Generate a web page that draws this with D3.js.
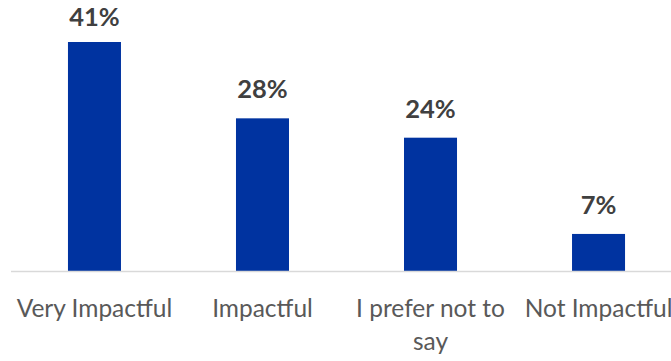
<!DOCTYPE html>
<html>
<head>
<meta charset="utf-8">
<script src="https://cdn.jsdelivr.net/npm/d3@7"></script>
<style>
  html, body { margin: 0; padding: 0; background: #ffffff; }
  svg { display: block; }
</style>
</head>
<body>
<svg id="chart" width="671" height="361"></svg>
<script>
const categories = ["Very Impactful", "Impactful", "I prefer not to say", "Not Impactful"];
const values = [41.4, 27.6, 24.1, 6.7];
const valueLabels = ["41%", "28%", "24%", "7%"];

const svg = d3.select("#chart");
const W = 671, H = 361;
const baseY = 271;
const fontFam = "Lato, 'Open Sans', sans-serif";

const x = d3.scaleBand()
  .domain(categories)
  .range([10.5, 682.5])
  .paddingInner(0.6845)
  .paddingOuter(0.342);

const y = d3.scaleLinear()
  .domain([0, d3.max(values)])
  .range([baseY, 42]);

// bars
svg.append("g").selectAll("rect")
  .data(categories)
  .join("rect")
  .attr("x", d => x(d))
  .attr("y", (d, i) => y(values[i]))
  .attr("width", x.bandwidth())
  .attr("height", (d, i) => baseY - y(values[i]))
  .attr("fill", "#0033a0");

// baseline axis
const axis = d3.axisBottom(x).tickSize(0).tickPadding(0);
const gx = svg.append("g").attr("transform", `translate(0,${baseY + 0.5})`).call(axis);
gx.select(".domain").attr("d", `M11,0H${W}`).attr("stroke", "#d9d9d9").attr("stroke-width", 1.5);
gx.selectAll(".tick text")
  .attr("font-family", fontFam)
  .attr("font-size", 24.5)
  .attr("fill", "#595959")
  .attr("dy", null)
  .attr("y", 45)
  .call(wrap, x.step() - 4);

function wrap(sel, width) {
  sel.each(function() {
    const t = d3.select(this);
    const words = t.text().split(/\s+/);
    t.text(null);
    let line = [];
    let lineNo = 0;
    let tspan = t.append("tspan").attr("x", 0).attr("y", 45);
    for (const w of words) {
      line.push(w);
      tspan.text(line.join(" "));
      if (tspan.node().getComputedTextLength() > width && line.length > 1) {
        line.pop();
        tspan.text(line.join(" "));
        line = [w];
        lineNo++;
        tspan = t.append("tspan").attr("x", 0).attr("y", 45 + lineNo * 33).text(w);
      }
    }
  });
}

// value labels
svg.append("g").selectAll("text")
  .data(categories)
  .join("text")
  .attr("x", d => x(d) + x.bandwidth() / 2)
  .attr("y", (d, i) => Math.max(26, y(values[i]) - 20))
  .attr("text-anchor", "middle")
  .attr("font-family", fontFam)
  .attr("font-weight", "bold")
  .attr("font-size", 25.5)
  .attr("fill", "#404040")
  .text((d, i) => valueLabels[i]);
</script>
</body>
</html>
